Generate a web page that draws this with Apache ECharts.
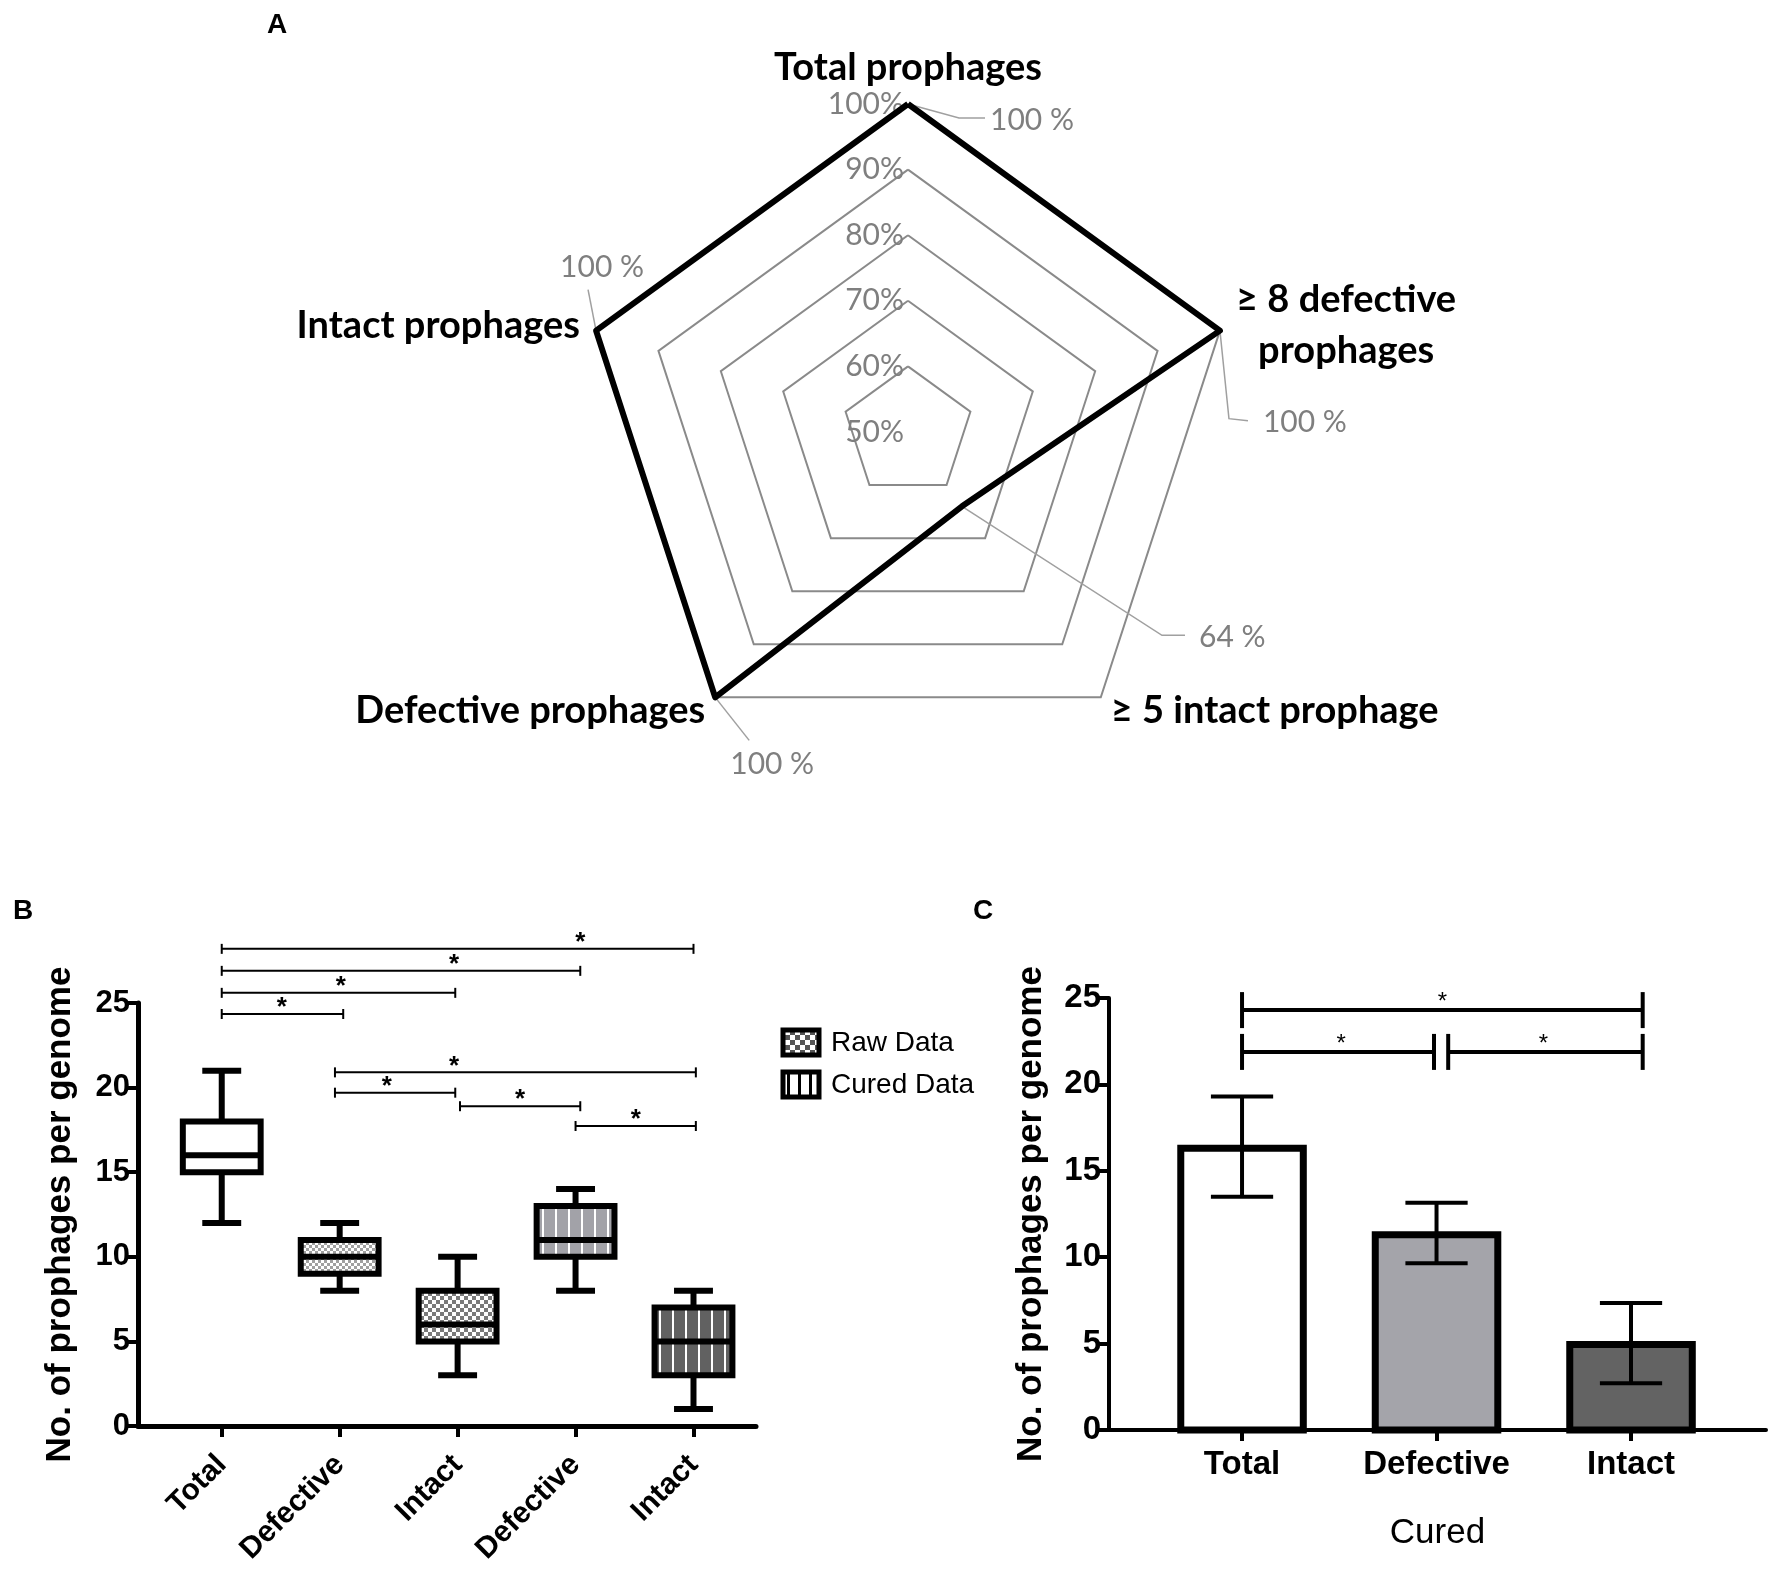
<!DOCTYPE html>
<html><head><meta charset="utf-8">
<script src="https://cdn.jsdelivr.net/npm/echarts@6/dist/echarts.min.js"></script>
<style>html,body{margin:0;padding:0;background:#fff}#c{width:1775px;height:1571px}</style>
</head><body><div id="c"></div>
<script>
// ---------- Panel A (radar) ----------
const radarIndicators = ['Total prophages', 'Intact prophages', 'Defective prophages', '≥ 5 intact prophage', '≥ 8 defective\nprophages'];
const radarValues = [100, 100, 100, 64, 100];
const radarMin = 50;
const radarMax = 100;
const radarValueLabels = ['100 %', '100 %', '100 %', '64 %', '100 %'];

// ---------- Panel B (box plots) ----------
const boxCategories = ['Total', 'Defective', 'Intact', 'Defective', 'Intact'];
const boxMin = [12, 8, 3, 8, 1];
const boxQ1 = [15, 9, 5, 10, 3];
const boxMedian = [16, 10, 6, 11, 5];
const boxQ3 = [18, 11, 8, 13, 7];
const boxMax = [21, 12, 10, 14, 8];
const bTicks = [0, 5, 10, 15, 20, 25];
// [from, to, level, star position]
const bBrackets = [
  [0, 4, 28.2, 3.04], [0, 3.04, 26.9, 1.97], [0, 1.98, 25.6, 1.01], [0, 1.03, 24.35, 0.51],
  [0.96, 4.02, 20.9, 1.97], [0.96, 1.98, 19.7, 1.40], [2.02, 3.04, 18.9, 2.53], [3.0, 4.02, 17.73, 3.51]
];
const legendNames = ['Raw Data', 'Cured Data'];

// ---------- Panel C (bars) ----------
const barCategories = ['Total', 'Defective', 'Intact'];
const barMeans = [16.3, 11.3, 4.95];
const barErrLow = [13.5, 9.65, 2.7];
const barErrHigh = [19.3, 13.15, 7.35];
const cBrackets = [[0, 2.06, 24.3, 1.03], [0, 0.987, 21.88, 0.51], [1.06, 2.06, 21.88, 1.55]];

const FONT = '"Liberation Sans", Arial, sans-serif';
const RFONT = 'Lato, "Open Sans", sans-serif';

function checker(cell, c1, c2) {
  const cv = document.createElement('canvas');
  cv.width = cv.height = cell * 2;
  const g = cv.getContext('2d');
  g.fillStyle = c2; g.fillRect(0, 0, cell * 2, cell * 2);
  g.fillStyle = c1; g.fillRect(0, 0, cell, cell); g.fillRect(cell, cell, cell, cell);
  return { image: cv, repeat: 'repeat' };
}
function stripes(period, bg, line, lw) {
  const cv = document.createElement('canvas');
  cv.width = period; cv.height = 4;
  const g = cv.getContext('2d');
  g.fillStyle = bg; g.fillRect(0, 0, period, 4);
  g.fillStyle = line; g.fillRect(period - lw - 2, 0, lw, 4);
  return { image: cv, repeat: 'repeat' };
}
const boxFills = ['#ffffff', checker(3, '#a0a0a0', '#ffffff'), checker(4, '#7a7a7a', '#ffffff'),
  stripes(13, '#a2a2a8', '#ffffff', 2), stripes(13, '#616161', '#ffffff', 2)];
const barFills = ['#ffffff', '#a4a4aa', '#636363'];

function bracketRenderer(lw, tickHalf, starFont, starGap) {
  return function (params, api) {
    const p1 = api.coord([api.value(0), api.value(2)]);
    const p2 = api.coord([api.value(1), api.value(2)]);
    const ps = api.coord([api.value(3), api.value(2)]);
    const st = { stroke: '#000', lineWidth: lw };
    return {
      type: 'group', children: [
        { type: 'line', shape: { x1: p1[0], y1: p1[1], x2: p2[0], y2: p2[1] }, style: st },
        { type: 'line', shape: { x1: p1[0], y1: p1[1] - tickHalf, x2: p1[0], y2: p1[1] + tickHalf }, style: st },
        { type: 'line', shape: { x1: p2[0], y1: p2[1] - tickHalf, x2: p2[0], y2: p2[1] + tickHalf }, style: st },
        { type: 'text', x: ps[0], y: ps[1] - starGap, style: { text: '*', font: starFont, fill: '#000', align: 'center', textAlign: 'center', verticalAlign: 'middle', textVerticalAlign: 'middle' } }
      ]
    };
  };
}

const option = {
  animation: false,
  backgroundColor: '#fff',
  radar: {
    center: [908, 432], radius: 328, startAngle: 90, shape: 'polygon', splitNumber: 5,
    indicator: radarIndicators.map((n, i) => i === 0 ? { name: n, min: radarMin, max: radarMax }
      : { name: n, min: radarMin, max: radarMax, axisLabel: { show: false } }),
    nameGap: 17,
    axisName: {
      color: '#000', fontFamily: RFONT, fontWeight: 'bold', fontSize: 38,
      formatter: function (name) {
        return name.indexOf('\n') >= 0 ? name.split('\n').map(l => '{c|' + l + '}').join('\n') : name;
      },
      rich: { c: { width: 220, align: 'center', color: '#000', fontFamily: RFONT, fontWeight: 'bold', fontSize: 38, lineHeight: 51 } }
    },
    splitLine: { lineStyle: { color: '#8a8a8a', width: 2 } },
    splitArea: { show: false },
    axisLine: { show: false },
    axisTick: { show: false },
    axisLabel: { show: true, color: '#7f7f7f', fontFamily: RFONT, fontSize: 30, margin: 4, formatter: v => v + '%' }
  },
  grid: [
    { left: 138, top: 1003, width: 618, height: 423 },
    { left: 1109, top: 998, width: 657, height: 432 }
  ],
  xAxis: [
    {
      gridIndex: 0, type: 'value', min: -0.71, max: 4.53,
      axisLine: { onZero: false, lineStyle: { color: '#000', width: 5 } },
      axisTick: { show: true, customValues: [0, 1, 2, 3, 4], length: 11, lineStyle: { color: '#000', width: 4 } },
      axisLabel: { customValues: [0, 1, 2, 3, 4], formatter: v => boxCategories[Math.round(v)], rotate: 45, fontFamily: FONT, fontWeight: 'bold', fontSize: 30, color: '#000', margin: 34 },
      splitLine: { show: false }
    },
    {
      gridIndex: 1, type: 'value', min: -0.684, max: 2.694,
      name: 'Cured', nameLocation: 'middle', nameGap: 86,
      nameTextStyle: { fontFamily: FONT, fontSize: 35, color: '#000' },
      axisLine: { onZero: false, lineStyle: { color: '#000', width: 4 } },
      axisTick: { show: true, customValues: [0, 1, 2], length: 11, lineStyle: { color: '#000', width: 4 } },
      axisLabel: { customValues: [0, 1, 2], formatter: v => barCategories[Math.round(v)], fontFamily: FONT, fontWeight: 'bold', fontSize: 33, color: '#000', margin: 18 },
      splitLine: { show: false }
    }
  ],
  yAxis: [
    {
      gridIndex: 0, type: 'value', min: bTicks[0], max: bTicks[bTicks.length - 1], interval: 5,
      name: 'No. of prophages per genome', nameLocation: 'middle', nameGap: 60,
      nameTextStyle: { fontFamily: FONT, fontWeight: 'bold', fontSize: 35, color: '#000' },
      axisLine: { show: true, onZero: false, lineStyle: { color: '#000', width: 5 } },
      axisTick: { show: true, length: 11, lineStyle: { color: '#000', width: 4 } },
      axisLabel: { fontFamily: FONT, fontWeight: 'bold', fontSize: 31, color: '#000', margin: 8 },
      splitLine: { show: false }
    },
    {
      gridIndex: 1, type: 'value', min: 0, max: 25, interval: 5,
      name: 'No. of prophages per genome', nameLocation: 'middle', nameGap: 60,
      nameTextStyle: { fontFamily: FONT, fontWeight: 'bold', fontSize: 35, color: '#000' },
      axisLine: { show: true, onZero: false, lineStyle: { color: '#000', width: 4 } },
      axisTick: { show: true, length: 11, lineStyle: { color: '#000', width: 4 } },
      axisLabel: { fontFamily: FONT, fontWeight: 'bold', fontSize: 33, color: '#000', margin: 8 },
      splitLine: { show: false }
    }
  ],
  series: [
    {
      type: 'radar', symbol: 'none',
      lineStyle: { color: '#000', width: 6 },
      data: [{ value: radarValues, name: 'Prophages' }]
    },
    {
      type: 'custom', xAxisIndex: 0, yAxisIndex: 0,
      data: boxCategories.map((c, i) => [i, boxMin[i], boxQ1[i], boxMedian[i], boxQ3[i], boxMax[i]]),
      encode: { x: 0, y: [1, 2, 3, 4, 5] },
      renderItem: function (params, api) {
        const i = api.value(0);
        const x = api.coord([i, 0])[0];
        const yMin = api.coord([i, api.value(1)])[1];
        const yQ1 = api.coord([i, api.value(2)])[1];
        const yMed = api.coord([i, api.value(3)])[1];
        const yQ3 = api.coord([i, api.value(4)])[1];
        const yMax = api.coord([i, api.value(5)])[1];
        const bw = api.size([0.66, 0])[0];
        const cw = api.size([0.33, 0])[0];
        const ls = { stroke: '#000', lineWidth: 6 };
        return {
          type: 'group', children: [
            { type: 'line', shape: { x1: x, y1: yMax, x2: x, y2: yQ3 }, style: ls },
            { type: 'line', shape: { x1: x, y1: yQ1, x2: x, y2: yMin }, style: ls },
            { type: 'line', shape: { x1: x - cw / 2, y1: yMax, x2: x + cw / 2, y2: yMax }, style: ls },
            { type: 'line', shape: { x1: x - cw / 2, y1: yMin, x2: x + cw / 2, y2: yMin }, style: ls },
            { type: 'rect', shape: { x: x - bw / 2, y: yQ3, width: bw, height: yQ1 - yQ3 }, style: { fill: boxFills[i], stroke: '#000', lineWidth: 6 } },
            { type: 'line', shape: { x1: x - bw / 2, y1: yMed, x2: x + bw / 2, y2: yMed }, style: ls }
          ]
        };
      }
    },
    {
      type: 'custom', xAxisIndex: 0, yAxisIndex: 0, clip: false,
      data: bBrackets, encode: { x: [0, 1, 3], y: 2 },
      renderItem: bracketRenderer(2, 5, 'bold 26px ' + FONT, 6)
    },
    {
      type: 'custom', xAxisIndex: 1, yAxisIndex: 1,
      data: barCategories.map((c, i) => [i, barMeans[i]]),
      encode: { x: 0, y: 1 },
      renderItem: function (params, api) {
        const i = api.value(0);
        const top = api.coord([i, api.value(1)]);
        const base = api.coord([i, 0]);
        const w = api.size([0.63, 0])[0];
        return { type: 'rect', shape: { x: top[0] - w / 2, y: top[1], width: w, height: base[1] - top[1] }, style: { fill: barFills[i], stroke: '#000', lineWidth: 7 } };
      }
    },
    {
      type: 'custom', xAxisIndex: 1, yAxisIndex: 1,
      data: barCategories.map((c, i) => [i, barErrLow[i], barErrHigh[i]]),
      encode: { x: 0, y: [1, 2] },
      renderItem: function (params, api) {
        const i = api.value(0);
        const lo = api.coord([i, api.value(1)]);
        const hi = api.coord([i, api.value(2)]);
        const cw = api.size([0.32, 0])[0];
        const st = { stroke: '#000', lineWidth: 4 };
        return {
          type: 'group', children: [
            { type: 'line', shape: { x1: lo[0], y1: lo[1], x2: hi[0], y2: hi[1] }, style: st },
            { type: 'line', shape: { x1: lo[0] - cw / 2, y1: lo[1], x2: lo[0] + cw / 2, y2: lo[1] }, style: st },
            { type: 'line', shape: { x1: hi[0] - cw / 2, y1: hi[1], x2: hi[0] + cw / 2, y2: hi[1] }, style: st }
          ]
        };
      }
    },
    {
      type: 'custom', xAxisIndex: 1, yAxisIndex: 1, clip: false,
      data: cBrackets, encode: { x: [0, 1, 3], y: 2 },
      renderItem: bracketRenderer(4, 18, '24px ' + FONT, 8)
    }
  ]
};

const chart = echarts.init(document.getElementById('c'), null, { renderer: 'canvas', width: 1775, height: 1571 });
chart.setOption(option);

// value labels with leader lines (positions from the radar's own scales)
const leaderOffsets = [
  { pts: [[51, 14], [77, 14]], lab: [82, 16], align: 'left' },
  { pts: [[-8, -41]], lab: [6, -63], align: 'center' },
  { pts: [[34, 43]], lab: [57, 67], align: 'center' },
  { pts: [[200, 129], [223, 129]], lab: [237, 131], align: 'left' },
  { pts: [[9, 88], [28, 90]], lab: [43, 92], align: 'left' }
];
const graphics = [];
const radarCS = chart.getModel().getComponent('radar').coordinateSystem;
radarValues.forEach((v, i) => {
  const p = radarCS.dataToPoint(v, i);
  const lo = leaderOffsets[i];
  graphics.push({
    type: 'polyline', silent: true, z: 1,
    shape: { points: [[p[0], p[1]]].concat(lo.pts.map(q => [p[0] + q[0], p[1] + q[1]])) },
    style: { stroke: '#a0a0a0', lineWidth: 1.5, fill: null }
  });
  graphics.push({
    type: 'text', silent: true, x: p[0] + lo.lab[0], y: p[1] + lo.lab[1],
    style: { text: radarValueLabels[i], font: '30px ' + RFONT, fill: '#7f7f7f', align: lo.align, textAlign: lo.align, verticalAlign: 'middle', textVerticalAlign: 'middle' }
  });
});
// panel letters
[['A', 277, 25], ['B', 23, 911], ['C', 983, 911]].forEach(t => graphics.push({
  type: 'text', x: t[1], y: t[2],
  style: { text: t[0], font: 'bold 28px ' + FONT, fill: '#000', align: 'center', textAlign: 'center', verticalAlign: 'middle', textVerticalAlign: 'middle' }
}));
// legend of panel B
const legendFills = [checker(5, '#555555', '#ffffff'), stripes(11, '#ffffff', '#000000', 3)];
legendNames.forEach((n, k) => {
  const y0 = 1030 + k * 42;
  graphics.push({ type: 'rect', shape: { x: 783, y: y0, width: 36, height: 25 }, style: { fill: legendFills[k], stroke: '#000', lineWidth: 5 } });
  graphics.push({ type: 'text', x: 831, y: y0 + 13, style: { text: n, font: '28px ' + FONT, fill: '#000', align: 'left', textAlign: 'left', verticalAlign: 'middle', textVerticalAlign: 'middle' } });
});
chart.setOption({ graphic: graphics });
</script>
</body></html>
